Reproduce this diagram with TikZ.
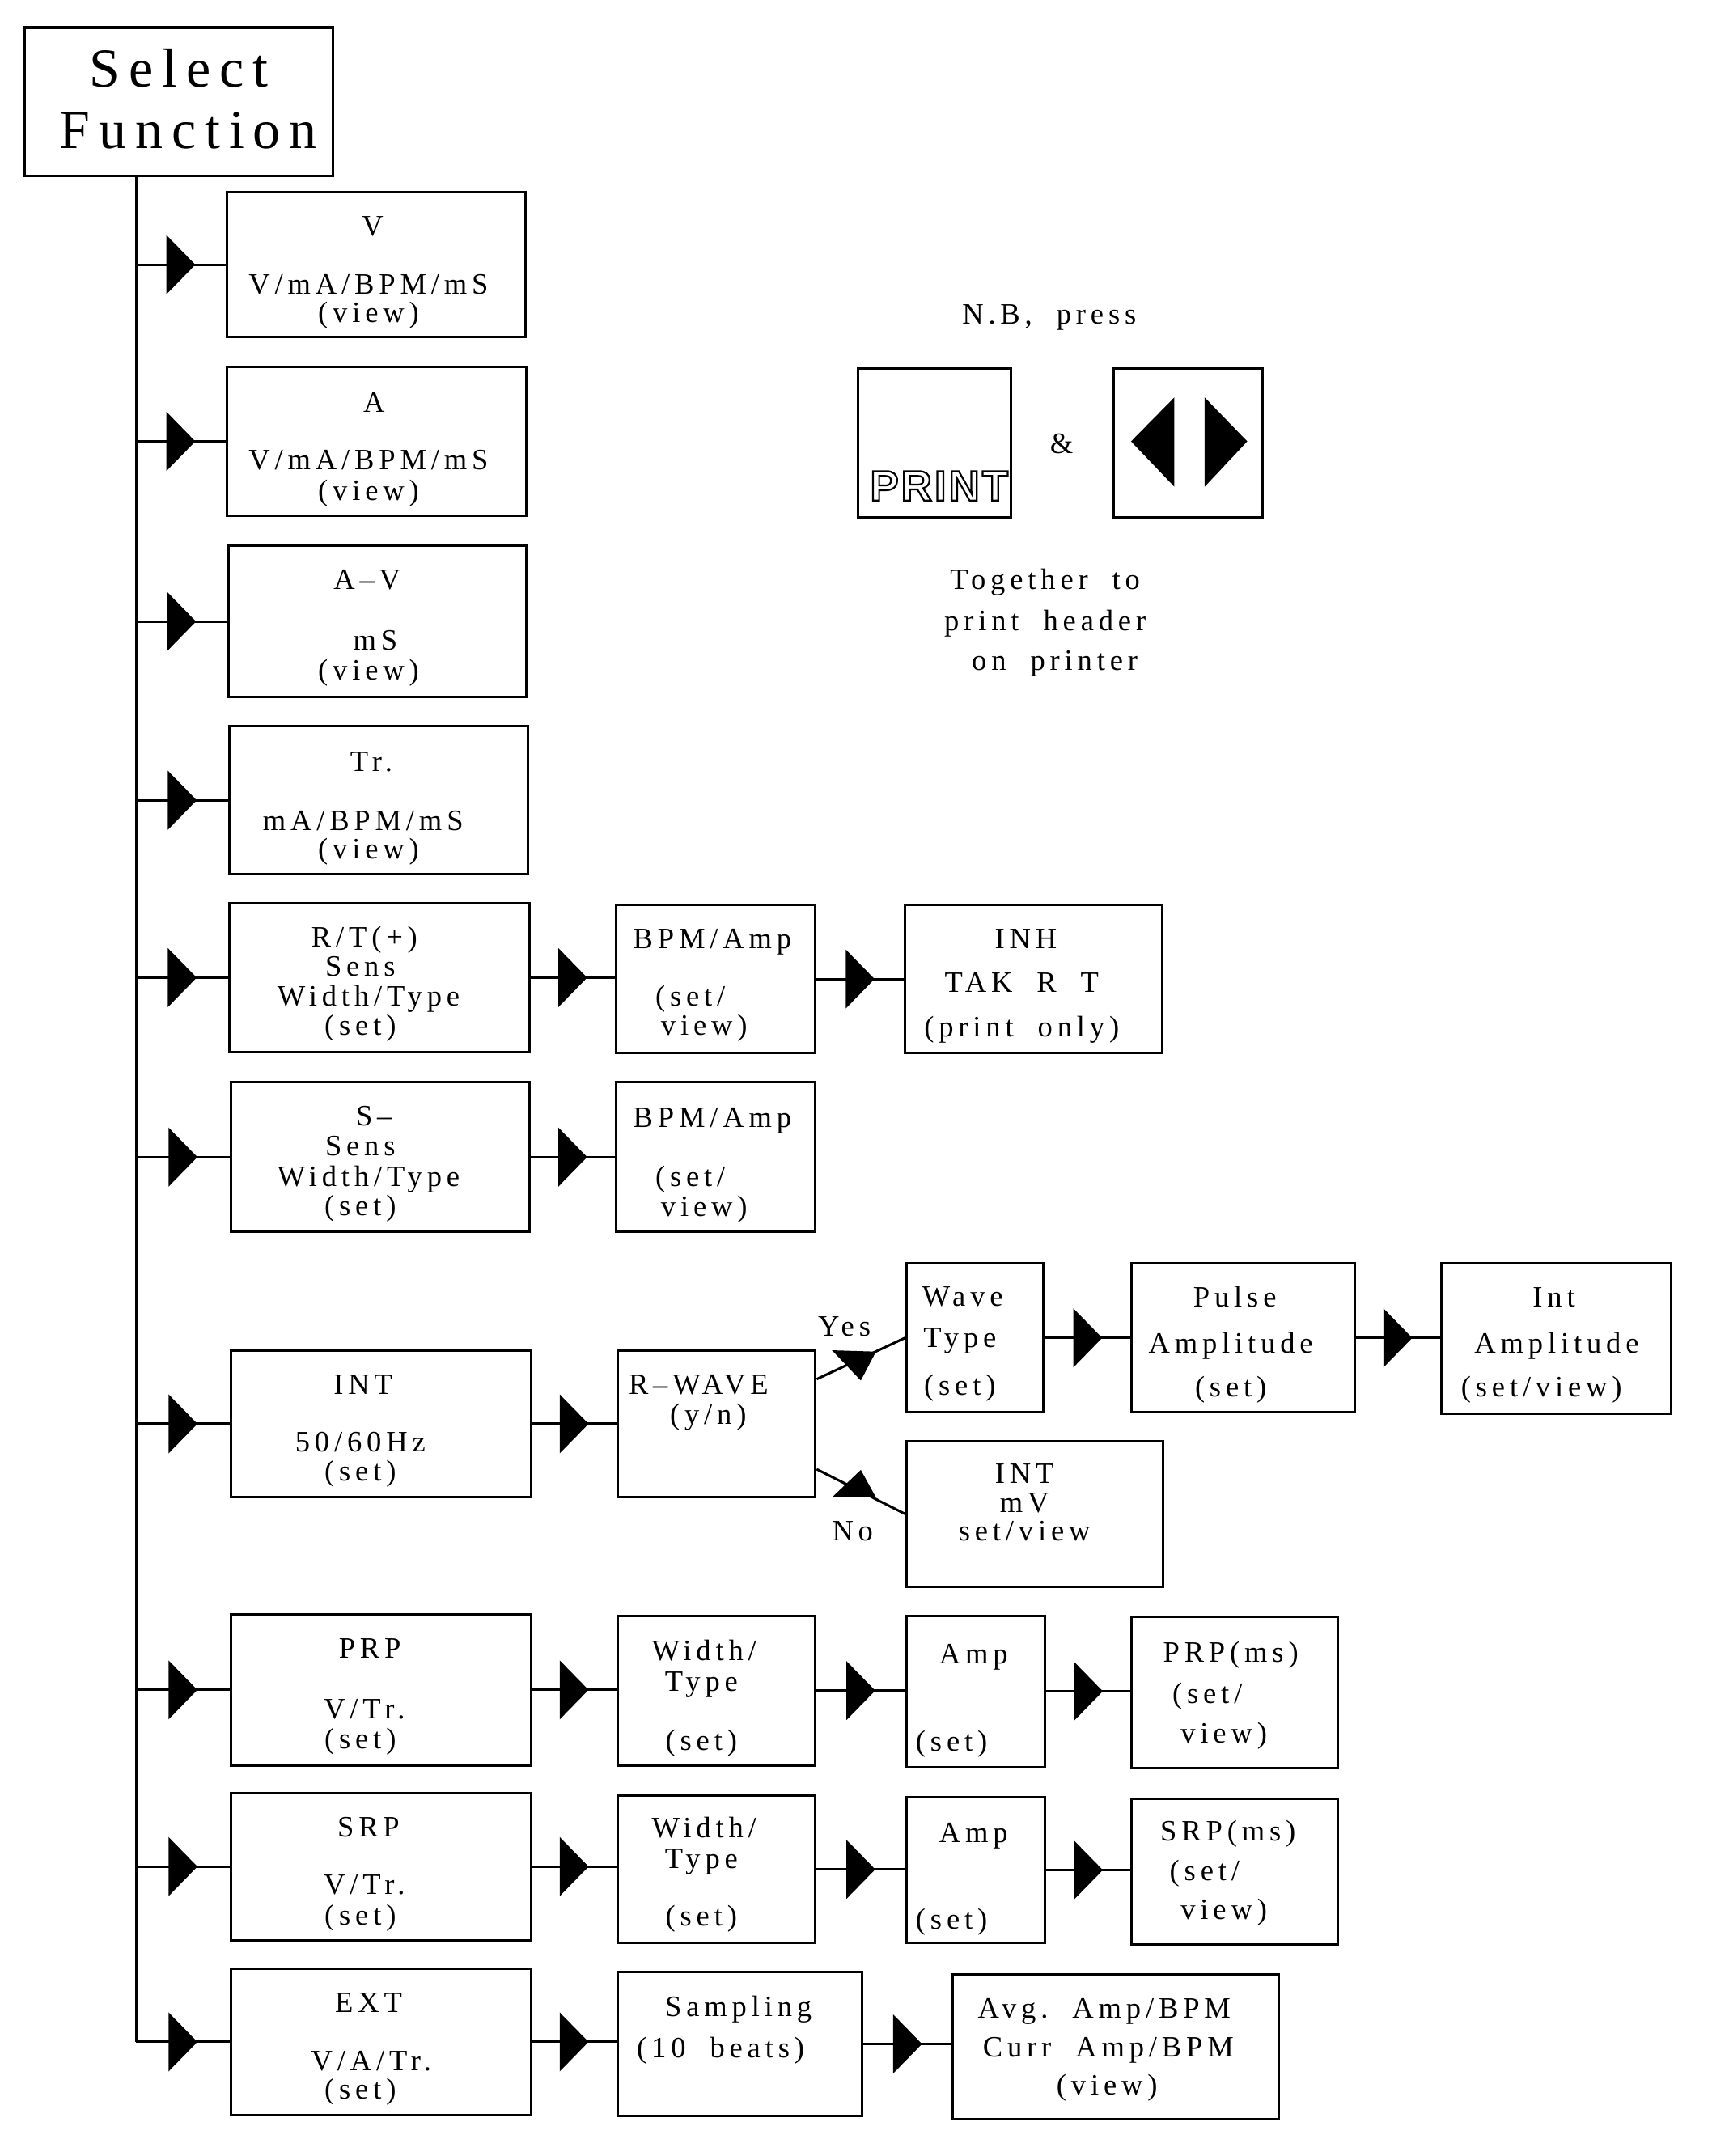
\documentclass[tikz,border=0pt]{standalone}
\usepackage{fontspec}
\usetikzlibrary{decorations.markings}
\newfontfamily\boxfont{Liberation Serif}[LetterSpace=16]
\newfontfamily\keyfont{Liberation Sans}[LetterSpace=6]
% one framed box: name, centre x, centre y, width, height
\newcommand\mkbox[5]{\node[fbox, minimum width=#4pt, minimum height=#5pt] (#1) at (#2,#3) {};}
% one line of text: name, x, y, text
\newcommand\tline[4]{\node[txt] (#1) at (#2,#3) {#4};}
% hollow (stroked only) lettering for the key cap
\newcommand\hollow[1]{\special{pdf:literal direct 1 Tr 1.3 w}#1\special{pdf:literal direct 0 Tr}}
\begin{document}
\begin{tikzpicture}[x=1pt,y=-1pt,
  fbox/.style={draw, line width=1.8pt, inner sep=0pt},
  txt/.style={inner sep=0pt, font=\boxfont\fontsize{21.5}{24}\selectfont, text height=14.5pt, text depth=1pt},
  bigtxt/.style={inner sep=0pt, font=\boxfont\fontsize{40}{44}\selectfont, text height=27pt, text depth=1pt},
  keytxt/.style={inner sep=0pt, font=\keyfont\bfseries\fontsize{31}{34}\selectfont, text height=23pt, text depth=0pt},
  conn/.style={line width=1.8pt, postaction={decorate},
    decoration={markings, mark=at position 0.5 with {\fill (-10.5pt,-21.5pt) -- (10.5pt,0pt) -- (-10.5pt,21.5pt) -- cycle;}}},
  wire/.style={line width=1.8pt}]
\useasboundingbox (0,0) rectangle (1257,1568);
\fill[white] (0,0) rectangle (1257,1568);

% ---------- root ----------
\mkbox{sel}{130}{74}{224}{108}
\node[bigtxt] (selA) at (130,50) {Select};
\node[bigtxt] (selB) at (137,95) {Function};

% ---------- first column ----------
\mkbox{v}{273.5}{192.5}{217}{105}
\tline{vA}{271}{165}{V}
\tline{vB}{268}{207}{V/mA/BPM/mS}
\tline{vC}{268}{228}{(view)}

\mkbox{a}{274}{321}{218}{108}
\tline{aA}{272}{293}{A}
\tline{aB}{268}{335}{V/mA/BPM/mS}
\tline{aC}{268}{357}{(view)}

\mkbox{av}{274.5}{452}{217}{110}
\tline{avA}{267}{422}{A–V}
\tline{avB}{273}{466}{mS}
\tline{avC}{268}{488}{(view)}

\mkbox{tr}{275.5}{582}{217}{108}
\tline{trA}{270}{554}{Tr.}
\tline{trB}{264}{597}{mA/BPM/mS}
\tline{trC}{268}{618}{(view)}

\mkbox{rt}{276}{711}{218}{108}
\tline{rtA}{265}{682}{R/T(+)}
\tline{rtB}{262}{703}{Sens}
\tline{rtC}{268}{725}{Width/Type}
\tline{rtD}{262}{746}{(set)}

\mkbox{s}{276.5}{841.5}{217}{109}
\tline{sA}{272}{812}{S–}
\tline{sB}{262}{834}{Sens}
\tline{sC}{268}{856}{Width/Type}
\tline{sD}{262}{877}{(set)}

\mkbox{int}{277}{1035.5}{218}{107}
\tline{intA}{264}{1007}{INT}
\tline{intB}{262}{1049}{50/60Hz}
\tline{intC}{262}{1070}{(set)}

\mkbox{prp}{277}{1229}{218}{110}
\tline{prpA}{269}{1199}{PRP}
\tline{prpB}{265}{1243}{V/Tr.}
\tline{prpC}{262}{1265}{(set)}

\mkbox{srp}{277}{1357.5}{218}{107}
\tline{srpA}{268}{1329}{SRP}
\tline{srpB}{265}{1371}{V/Tr.}
\tline{srpC}{262}{1393}{(set)}

\mkbox{ext}{277}{1485}{218}{106}
\tline{extA}{268}{1457}{EXT}
\tline{extB}{270}{1499}{V/A/Tr.}
\tline{extC}{262}{1520}{(set)}

% ---------- further steps ----------
\mkbox{rtb}{520.5}{712}{145}{108}
\tline{rtbA}{518}{683}{BPM/Amp}
\tline{rtbB}{502}{725}{(set/}
\tline{rtbC}{512}{746}{view)}

\mkbox{inh}{751.5}{712}{187}{108}
\tline{inhA}{746}{683}{INH}
\tline{inhB}{743}{715}{TAK~~R~~T}
\tline{inhC}{743}{747}{(print~~only)}

\mkbox{sb}{520.5}{841.5}{145}{109}
\tline{sbA}{518}{813}{BPM/Amp}
\tline{sbB}{502}{856}{(set/}
\tline{sbC}{512}{878}{view)}

\mkbox{rw}{521}{1035.5}{144}{107}
\tline{rwA}{508}{1007}{R–WAVE}
\tline{rwB}{515}{1029}{(y/n)}

\mkbox{wt}{709}{973}{100}{108}
\tline{wtA}{700}{943}{Wave}
\tline{wtB}{698}{973}{Type}
\tline{wtC}{698}{1008}{(set)}

\mkbox{pa}{904}{973}{162}{108}
\tline{paA}{898}{944}{Pulse}
\tline{paB}{895}{977}{Amplitude}
\tline{paC}{895}{1009}{(set)}

\mkbox{ia}{1131.5}{973.5}{167}{109}
\tline{iaA}{1130}{944}{Int}
\tline{iaB}{1132}{977}{Amplitude}
\tline{iaC}{1121}{1009}{(set/view)}

\mkbox{imv}{752.5}{1101}{187}{106}
\tline{imvA}{745}{1072}{INT}
\tline{imvB}{745}{1093}{mV}
\tline{imvC}{745}{1114}{set/view}

\tline{yes}{614}{965}{Yes}
\tline{no}{620}{1114}{No}

\mkbox{pwt}{521}{1229.5}{144}{109}
\tline{pwtA}{512}{1201}{Width/}
\tline{pwtB}{510}{1223}{Type}
\tline{pwtC}{510}{1266}{(set)}

\mkbox{pamp}{709.5}{1230}{101}{110}
\tline{pampA}{708}{1203}{Amp}
\tline{pampB}{692}{1267}{(set)}

\mkbox{pms}{898}{1231}{150}{110}
\tline{pmsA}{895}{1202}{PRP(ms)}
\tline{pmsB}{878}{1232}{(set/}
\tline{pmsC}{890}{1261}{view)}

\mkbox{swt}{521}{1359.5}{144}{107}
\tline{swtA}{512}{1330}{Width/}
\tline{swtB}{510}{1352}{Type}
\tline{swtC}{510}{1394}{(set)}

\mkbox{samp}{709.5}{1360}{101}{106}
\tline{sampA}{708}{1333}{Amp}
\tline{sampB}{692}{1396}{(set)}

\mkbox{sms}{898}{1361}{150}{106}
\tline{smsA}{893}{1332}{SRP(ms)}
\tline{smsB}{876}{1361}{(set/}
\tline{smsC}{890}{1389}{view)}

\mkbox{smpl}{538}{1486.5}{178}{105}
\tline{smplA}{537}{1460}{Sampling}
\tline{smplB}{524}{1490}{(10~~beats)}

\mkbox{avg}{811.5}{1488.5}{237}{105}
\tline{avgA}{803}{1461}{Avg.~~Amp/BPM}
\tline{avgB}{806}{1489}{Curr~~Amp/BPM}
\tline{avgC}{805}{1517}{(view)}

% ---------- trunk and branches ----------
\coordinate (tx) at (99,0);
\draw[wire] (tx |- sel.south) -- (tx |- ext.west);
\foreach \b in {v,a,av,tr,rt,s,int,prp,srp,ext}
  \draw[conn] (tx |- \b.west) -- (\b.west);

\draw[conn] (rt.east) -- (rt.east -| rtb.west);
\draw[conn] (rtb.east) -- (rtb.east -| inh.west);
\draw[conn] (s.east) -- (s.east -| sb.west);
\draw[conn] (int.east) -- (int.east -| rw.west);
\draw[conn] (wt.east) -- (wt.east -| pa.west);
\draw[conn] (pa.east) -- (pa.east -| ia.west);
\draw[conn] (prp.east) -- (prp.east -| pwt.west);
\draw[conn] (pwt.east) -- (pwt.east -| pamp.west);
\draw[conn] (pamp.east) -- (pamp.east -| pms.west);
\draw[conn] (srp.east) -- (srp.east -| swt.west);
\draw[conn] (swt.east) -- (swt.east -| samp.west);
\draw[conn] (samp.east) -- (samp.east -| sms.west);
\draw[conn] (ext.east) -- (ext.east -| smpl.west);
\draw[conn] (smpl.east) -- (smpl.east -| avg.west);

% yes / no split after the R-wave question
\draw[wire] ([yshift=32.5pt]rw.east) -- (wt.west);
\fill (605,982) -- (637,983) -- (626,1004) -- cycle;
\draw[wire] ([yshift=-33pt]rw.east) -- (imv.west);
\fill (605,1089) -- (626,1069) -- (637,1089) -- cycle;

% ---------- key note ----------
\tline{nb}{763}{229}{N.B,~~press}
\mkbox{pbox}{679.5}{322}{111}{108}
\mkbox{kbox}{864}{322}{108}{108}
\tline{amp}{772}{323}{\&}
\node[keytxt] (pkey) at (683,352.5) {\hollow{PRINT}};
\fill (822.5,321) -- (854,289) -- (854,354) -- cycle;
\fill (876,289) -- (876,354) -- (907,321) -- cycle;
\tline{togA}{760}{422}{Together~~to}
\tline{togB}{760}{452}{print~~header}
\tline{togC}{767}{481}{on~~printer}
\end{tikzpicture}
\end{document}
